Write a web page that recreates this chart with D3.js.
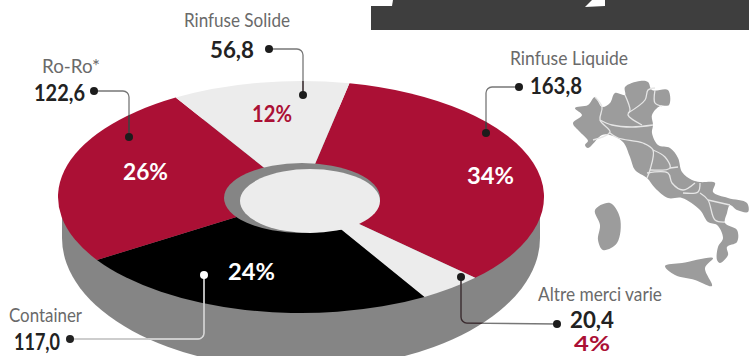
<!DOCTYPE html>
<html lang="it">
<head>
<meta charset="utf-8">
<script src="https://cdn.jsdelivr.net/npm/d3@7/dist/d3.min.js"></script>
<style>
  html, body { margin: 0; padding: 0; background: #fff; }
  svg { display: block; }
  text { font-family: "Lato", "Noto Sans", sans-serif; }
</style>
</head>
<body>
<svg id="chart" width="749" height="356"></svg>
<script>
// Traffic by cargo type, in clockwise order from the top of the disc.
const categories = ["Rinfuse Liquide", "Altre merci varie", "Container", "Ro-Ro*", "Rinfuse Solide"];
const valueLabels = ["163,8", "20,4", "117,0", "122,6", "56,8"];
const values = [163.8, 20.4, 117.0, 122.6, 56.8];
const shares = ["34%", "4%", "24%", "26%", "12%"];

const CRIMSON = "#ab1035", BLACK = "#000", PALE = "#ececec", WALL = "#858585", MAP = "#9c9c9c";
const sliceFill = [CRIMSON, PALE, BLACK, CRIMSON, PALE];

// Text and leader placement per category, keyed by the order above.
const layout = [
  { name: [510, 65, 118], val: [530, 94, 52], share: [467, 184, 47, "#fff"],
    leader: [[519, 87], [486, 87], [486, 133]], tone: "#777" },
  { name: [538, 301, 124], val: [570, 328, 44], share: [574, 351, 36, CRIMSON], shareSize: 20,
    leader: [[461, 277], [461, 323], [557, 324]], tone: "#777" },
  { name: [9, 322, 73], val: [14, 350, 46], share: [228, 280, 47, "#fff"],
    leader: [[204, 275], [204, 339], [70, 339]], tone: "#bdbdbd", dots: ["#fff", "#222"], over: "#d8d8d8" },
  { name: [42, 73, 58], val: [34, 101, 51], share: [123, 180, 45, "#fff"],
    leader: [[94, 91], [129, 91], [129, 137]], tone: "#777" },
  { name: [184, 27, 106], val: [210, 58, 44], share: [252, 122, 40, CRIMSON],
    leader: [[269, 49], [303, 49], [303, 95]], tone: "#777" }
];

const svg = d3.select("#chart");
const face = { cx: 301, cy: 197, rx: 243, ry: 116 };
const base = { cx: 301, cy: 238, rx: 239, ry: 131 };

// Header band with the clipped feet of its title lettering.
svg.append("rect").attr("x", 371).attr("y", 0).attr("width", 378).attr("height", 30).attr("fill", "#3e3e3e");
const poly = d3.line();
svg.append("path").attr("d", poly([[371, 0], [393, 0], [392, 6], [371, 6]]) + "Z").attr("fill", "#fff");
svg.append("path").attr("d", poly([[592, 0], [605, 0], [605, 6], [585, 7]]) + "Z").attr("fill", "#fff");

// Side wall of the disc.
svg.append("ellipse").attr("cx", base.cx).attr("cy", base.cy).attr("rx", base.rx).attr("ry", base.ry).attr("fill", WALL);
svg.append("rect").attr("x", base.cx - base.rx).attr("y", face.cy).attr("width", base.rx * 2)
  .attr("height", base.cy - face.cy).attr("fill", WALL);

// Top face: a pie flattened into an ellipse.
const pie = d3.pie().sort(null)
  .startAngle(11.5 * Math.PI / 180)
  .endAngle((360 + 11.5) * Math.PI / 180);
const arc = d3.arc().innerRadius(0).outerRadius(face.rx);
svg.append("g")
  .attr("transform", `translate(${face.cx},${face.cy}) scale(1,${face.ry / face.rx})`)
  .selectAll("path").data(pie(values)).join("path")
  .attr("d", arc)
  .attr("fill", (d, i) => sliceFill[i]);

// Central opening, with the inner wall showing along its upper left.
svg.append("ellipse").attr("cx", 302).attr("cy", 198).attr("rx", 78).attr("ry", 35).attr("fill", WALL);
svg.append("ellipse").attr("cx", 310).attr("cy", 201).attr("rx", 70).attr("ry", 32).attr("fill", PALE);

// Map of Italy with regional boundaries.
const closedCurve = d3.line().curve(d3.curveCatmullRomClosed.alpha(0.5));
const openCurve = d3.line().curve(d3.curveCatmullRom.alpha(0.5));
const landmasses = [
  [[575,108],[588,105],[595,97],[602,107],[610,103],[615,93],[625,95],[625,87],[640,81],[648,82],[652,90],[668,90],
   [669,105],[660,106],[652,115],[653,125],[652,133],[658,145],[670,148],[678,158],[682,172],[692,180],[700,182],[715,183],
   [713,192],[728,198],[747,203],[748,212],[737,210],[730,205],[727,213],[725,223],[737,230],[737,242],[727,247],[728,255],
   [720,263],[717,260],[718,247],[723,238],[717,225],[708,222],[700,210],[682,198],[668,198],[655,188],[647,178],[635,170],
   [630,157],[623,142],[610,135],[602,135],[588,148],[585,145],[588,141],[580,132],[573,123],[582,115]],
  [[595,210],[610,203],[620,218],[617,243],[603,250],[598,240],[600,225]],
  [[665,266],[682,263],[713,258],[705,268],[712,286],[695,280],[675,275]]
];
const boundaries = [
  [[595,97],[602,107],[600,120],[610,132],[593,140]],
  [[625,95],[630,110],[628,115],[642,125]],
  [[628,113],[645,100],[648,90],[655,88]],
  [[655,90],[655,103],[662,106]],
  [[600,120],[612,125],[632,127],[653,125]],
  [[610,133],[618,138],[643,143],[653,150],[650,170],[647,178]],
  [[653,150],[665,157],[670,168],[650,170]],
  [[670,168],[678,167]],
  [[647,173],[668,173],[672,183],[683,190],[695,183]],
  [[683,193],[698,192],[700,183]],
  [[700,193],[708,200],[715,220],[725,222]],
  [[708,200],[730,205]]
];
svg.selectAll(".land").data(landmasses).join("path").attr("class", "land")
  .attr("d", d => closedCurve(d)).attr("fill", MAP);
svg.selectAll(".border").data(boundaries).join("path").attr("class", "border")
  .attr("d", d => openCurve(d)).attr("fill", "none").attr("stroke", "#e6e6e6").attr("stroke-width", 1.3);

// Silhouette of the disc, so leaders can darken where they cross it.
const clip = svg.append("clipPath").attr("id", "disc");
clip.append("ellipse").attr("cx", face.cx).attr("cy", face.cy).attr("rx", face.rx).attr("ry", face.ry);
clip.append("ellipse").attr("cx", base.cx).attr("cy", base.cy).attr("rx", base.rx).attr("ry", base.ry);

// Leaders with rounded elbows and end dots.
function leaderPath(p) {
  const r = 6, [a, b, c] = p;
  const path = d3.path();
  path.moveTo(a[0], a[1]);
  path.arcTo(b[0], b[1], c[0], c[1], r);
  path.lineTo(c[0], c[1]);
  return path.toString();
}
layout.forEach(l => {
  svg.append("path").attr("d", leaderPath(l.leader)).attr("fill", "none")
    .attr("stroke", l.tone).attr("stroke-width", 1.3);
  svg.append("path").attr("d", leaderPath(l.leader)).attr("fill", "none")
    .attr("clip-path", "url(#disc)")
    .attr("stroke", l.over || "#3a2a2e").attr("stroke-width", 1.3);
  const dots = l.dots || ["#1c1c1c", "#1c1c1c"];
  svg.append("circle").attr("cx", l.leader[0][0]).attr("cy", l.leader[0][1]).attr("r", 4).attr("fill", dots[0]);
  svg.append("circle").attr("cx", l.leader[2][0]).attr("cy", l.leader[2][1]).attr("r", 4).attr("fill", dots[1]);
});

// Labels, fitted to their measured widths.
function label(t, spec, size, weight, fill) {
  svg.append("text").text(t)
    .attr("x", spec[0]).attr("y", spec[1])
    .attr("textLength", spec[2]).attr("lengthAdjust", "spacingAndGlyphs")
    .attr("font-size", size).attr("font-weight", weight).attr("fill", fill);
}
categories.forEach((c, i) => {
  const l = layout[i];
  label(c, l.name, 19, 400, "#6a6a6a");
  label(valueLabels[i], l.val, 22, 700, "#222");
  label(shares[i], l.share, l.shareSize || 22, 700, l.share[3]);
});
</script>
</body>
</html>
